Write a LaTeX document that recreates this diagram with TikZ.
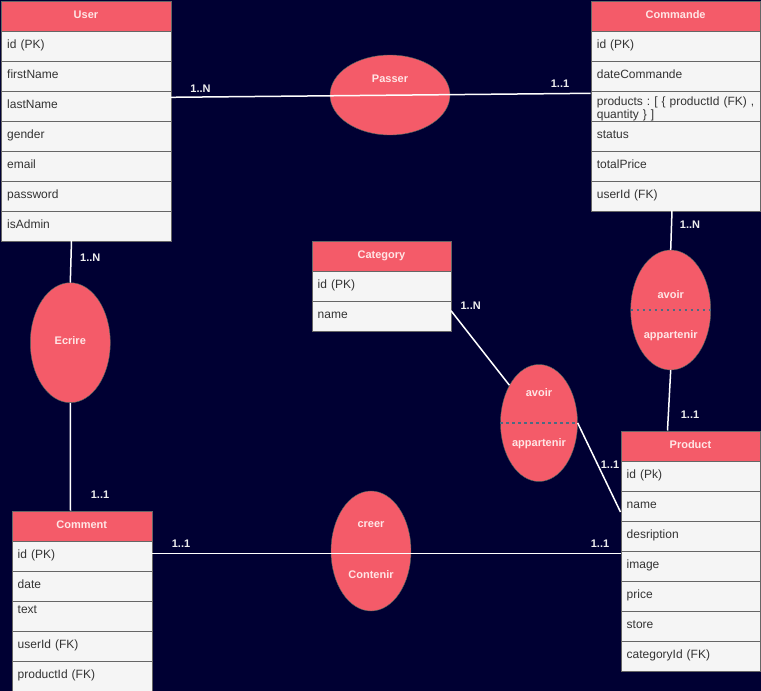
\documentclass[tikz,border=0pt]{standalone}
\usepackage{fontspec}
\setmainfont{Liberation Sans}
\frenchspacing
\usetikzlibrary{shapes.geometric}
\definecolor{bgc}{HTML}{000033}
\definecolor{redf}{HTML}{F45B69}
\definecolor{hdtxt}{HTML}{FFE6E6}
\definecolor{rowf}{HTML}{F5F5F5}
\definecolor{rowd}{HTML}{666666}
\definecolor{rowt}{HTML}{333333}
\definecolor{ellst}{HTML}{456960}
\definecolor{divc}{HTML}{4D6B82}
\definecolor{cardt}{HTML}{EEEEEE}
\tikzset{
  ehdr/.style={draw=rowd, fill=redf, text=hdtxt, font=\fontsize{11}{13}\selectfont\bfseries,
    anchor=north west, minimum width=#1, minimum height=30pt, inner sep=0pt,
    text height=8pt, text depth=2.3pt},
  erow/.style={draw=rowd, fill=rowf, text=rowt, font=\fontsize{12}{13}\selectfont\frenchspacing,
    anchor=north west, minimum height=30pt, inner xsep=6pt, inner ysep=0pt,
    text width=#1, align=left, text height=8.6pt, text depth=2.5pt},
  rel/.style={ellipse, draw=ellst, fill=redf, minimum width=80pt, minimum height=120pt, inner sep=0pt},
  reltxt/.style={text=hdtxt, font=\fontsize{11}{13}\selectfont\bfseries, inner sep=0pt},
  card/.style={text=cardt, font=\fontsize{11}{13}\selectfont\bfseries, inner sep=0pt},
  conn/.style={draw=white, line width=1.5pt},
  divider/.style={draw=divc, line width=2pt, dash pattern=on 2.5pt off 3.5pt},
}
\begin{document}
\begin{tikzpicture}[x=1pt,y=-1pt]
\useasboundingbox (0,0) rectangle (761,691);
\fill[bgc] (0,0) rectangle (761,691);

% ---------- User ----------
\node[ehdr=169.5pt] (user) at (1,0.5) {User};
\foreach \t [count=\i] in {id (PK),firstName,lastName,gender,email,password,isAdmin}
  \node[erow=157.5pt] (user-\i) at (1,0.5+30*\i) {\t};

% ---------- Commande ----------
\node[ehdr=169.5pt] (cmd) at (590.7,0.5) {Commande};
\node[erow=157.5pt] (cmd-1) at (590.7,30.5) {id (PK)};
\node[erow=157.5pt] (cmd-2) at (590.7,60.5) {dateCommande};
\node[erow=157.5pt, text depth=10pt] (cmd-3) at (590.7,90.5) {\mbox{products : [ \{ productId (FK) ,}\\quantity \} ]};
\node[erow=157.5pt] (cmd-4) at (590.7,120.5) {status};
\node[erow=157.5pt] (cmd-5) at (590.7,150.5) {totalPrice};
\node[erow=157.5pt] (cmd-6) at (590.7,180.5) {userId (FK)};

% ---------- Category ----------
\node[ehdr=139.5pt] (cat) at (311.5,240.7) {Category};
\node[erow=127.5pt] (cat-1) at (311.5,270.7) {id (PK)};
\node[erow=127.5pt] (cat-2) at (311.5,300.7) {name};

% ---------- Product ----------
\node[ehdr=139.5pt] (prod) at (620.5,430.5) {Product};
\foreach \t [count=\i] in {id (Pk),name,desription,image,price,store,categoryId (FK)}
  \node[erow=127.5pt] (prod-\i) at (620.5,430.5+30*\i) {\t};

% ---------- Comment ----------
\node[ehdr=140pt] (com) at (11.5,510.5) {Comment};
\node[erow=128pt] (com-1) at (11.5,540.5) {id (PK)};
\node[erow=128pt] (com-2) at (11.5,570.5) {date};
\node[erow=128pt, text depth=13.4pt] (com-3) at (11.5,600.5) {text};
\node[erow=128pt] (com-4) at (11.5,630.5) {userId (FK)};
\node[erow=128pt] (com-5) at (11.5,660.5) {productId (FK)};

% ---------- connector end points ----------
\coordinate (uR) at (170.5,97.3);
\coordinate (cL) at (590.7,93.3);
\coordinate (uB) at (71.5,240.5);
\coordinate (comT) at (70.5,510.5);
\coordinate (cB) at (672,210.5);
\coordinate (pT) at (667.5,430.5);
\coordinate (catR) at (451,310.7);
\coordinate (pL) at (620.5,512);
\coordinate (comR) at (151.5,553.3);
\coordinate (pL2) at (620.5,553.3);

% ---------- relationships ----------
\node[rel, minimum width=120pt, minimum height=80pt] (passer) at (390,95) {};
\node[rel] (ecrire) at (70.3,342.7) {};
\node[rel] (avoirR) at (670.7,310) {};
\node[rel, minimum width=77pt, minimum height=117pt] (avoirM) at (539,423) {};
\node[rel] (creer) at (371,551) {};

\draw[divider] (avoirR.west) -- (avoirR.east);
\draw[divider] (avoirM.west) -- (avoirM.east);

% ---------- connectors ----------
\draw[conn] (uR) -- (cL);
\draw[conn] (uB) -- (ecrire.north);
\draw[conn] (ecrire.south) -- (comT);
\draw[conn] (cB) -- (avoirR.north);
\draw[conn] (avoirR.south) -- (pT);
\draw[conn] (catR) -- (avoirM);
\draw[conn] (avoirM.east) -- (pL);
\draw[conn] (comR) -- (pL2);

% ---------- relationship texts ----------
\node[reltxt] (passer-t) at (390,79) {Passer};
\node[reltxt] (ecrire-t) at (70.3,341) {Ecrire};
\node[reltxt] (avoirR-t1) at (670.7,295) {avoir};
\node[reltxt] (avoirR-t2) at (670.7,336) {appartenir};
\node[reltxt] (avoirM-t1) at (539,393) {avoir};
\node[reltxt] (avoirM-t2) at (539,444) {appartenir};
\node[reltxt] (creer-t1) at (371,525) {creer};
\node[reltxt] (creer-t2) at (371,575) {Contenir};

% ---------- cardinalities ----------
\node[card] (k1) at (200.5,89) {1..N};
\node[card] (k2) at (560,83.5) {1..1};
\node[card] (k3) at (90.3,257.3) {1..N};
\node[card] (k4) at (100,494.5) {1..1};
\node[card] (k5) at (690,224.5) {1..N};
\node[card] (k6) at (690,415) {1..1};
\node[card] (k7) at (470.7,305.7) {1..N};
\node[card] (k8) at (610,465) {1..1};
\node[card] (k9) at (181,543.5) {1..1};
\node[card] (k10) at (600,543.5) {1..1};
\end{tikzpicture}
\end{document}
